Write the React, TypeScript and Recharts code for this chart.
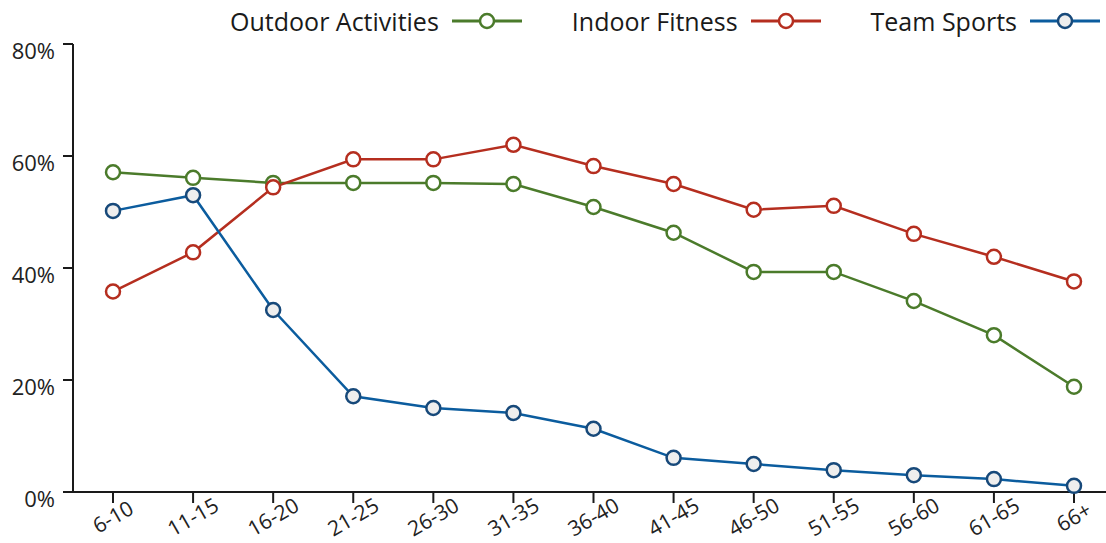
import React from "react";
import { LineChart, Line, XAxis, YAxis } from "recharts";

const categories = ["6-10", "11-15", "16-20", "21-25", "26-30", "31-35", "36-40", "41-45", "46-50", "51-55", "56-60", "61-65", "66+"];
const outdoor = [57.1, 56.1, 55.2, 55.2, 55.2, 55.0, 50.9, 46.3, 39.3, 39.3, 34.1, 28.0, 18.8];
const indoor = [35.8, 42.8, 54.4, 59.4, 59.4, 62.0, 58.2, 55.0, 50.4, 51.1, 46.1, 42.0, 37.6];
const team = [50.2, 53.0, 32.5, 17.1, 15.0, 14.1, 11.3, 6.1, 5.0, 3.9, 3.0, 2.3, 1.1];
const yTicks = [0, 20, 40, 60, 80];

const seriesNames = ["Outdoor Activities", "Indoor Fitness", "Team Sports"];
const seriesKeys = ["outdoor", "indoor", "team"];
const lineColors = ["#4b7b2b", "#b52e1f", "#0b5c9e"];
const dotStrokes = ["#4b7b2b", "#b52e1f", "#17497a"];
const dotFills = ["#ffffff", "#ffffff", "#eeeeee"];

const data = categories.map((c, i) => ({
  cat: c,
  outdoor: outdoor[i],
  indoor: indoor[i],
  team: team[i],
}));

const FONT = "'Open Sans', sans-serif";

const XTick = (props: any) => {
  const { x, y, payload } = props;
  return (
    <g transform={`translate(${x},${y + 14}) rotate(-30)`}>
      <text textAnchor="middle" dy="0.35em" fontSize={21} fill="#222" fontFamily={FONT}>
        {payload.value}
      </text>
    </g>
  );
};

const YTick = (props: any) => {
  const { x, y, payload } = props;
  return (
    <text x={x} y={y} dy={15} textAnchor="end" fontSize={22} fill="#222" fontFamily={FONT}>
      {payload.value}%
    </text>
  );
};

const LegendBar = () => (
  <div
    style={{
      position: "absolute",
      top: 0,
      right: 6,
      height: 42,
      display: "flex",
      alignItems: "center",
      gap: 50,
      fontFamily: FONT,
      fontSize: 25,
      color: "#1a1a1a",
    }}
  >
    {seriesNames.map((n, i) => (
      <div key={n} style={{ display: "flex", alignItems: "center" }}>
        <span>{n}</span>
        <svg width={70} height={20} style={{ marginLeft: 13 }}>
          <line x1={0} y1={10} x2={70} y2={10} stroke={lineColors[i]} strokeWidth={3} />
          <circle cx={35} cy={10} r={7} fill={dotFills[i]} stroke={dotStrokes[i]} strokeWidth={2.5} />
        </svg>
      </div>
    ))}
  </div>
);

export default function App() {
  return (
    <div style={{ position: "absolute", left: 0, top: 0, width: 1106, height: 543, background: "#fff" }}>
      <LineChart width={1106} height={543} data={data} margin={{ top: 44, right: 0, bottom: 0, left: 0 }}>
        <XAxis
          dataKey="cat"
          height={51}
          padding={{ left: 40, right: 32 }}
          tickSize={11}
          tickMargin={0}
          interval={0}
          tick={<XTick />}
          axisLine={{ stroke: "#1a1a1a", strokeWidth: 2 }}
          tickLine={{ stroke: "#1a1a1a", strokeWidth: 2 }}
        />
        <YAxis
          width={73}
          domain={[0, 80]}
          ticks={yTicks}
          tickSize={10}
          tickMargin={8}
          tick={<YTick />}
          axisLine={{ stroke: "#1a1a1a", strokeWidth: 2 }}
          tickLine={{ stroke: "#1a1a1a", strokeWidth: 2 }}
        />
        {seriesKeys.map((k, i) => (
          <Line
            key={k}
            type="linear"
            dataKey={k}
            name={seriesNames[i]}
            stroke={lineColors[i]}
            strokeWidth={2.5}
            dot={{ r: 7, fill: dotFills[i], stroke: dotStrokes[i], strokeWidth: 2.5 }}
            activeDot={false}
            isAnimationActive={false}
          />
        ))}
      </LineChart>
      <LegendBar />
    </div>
  );
}
